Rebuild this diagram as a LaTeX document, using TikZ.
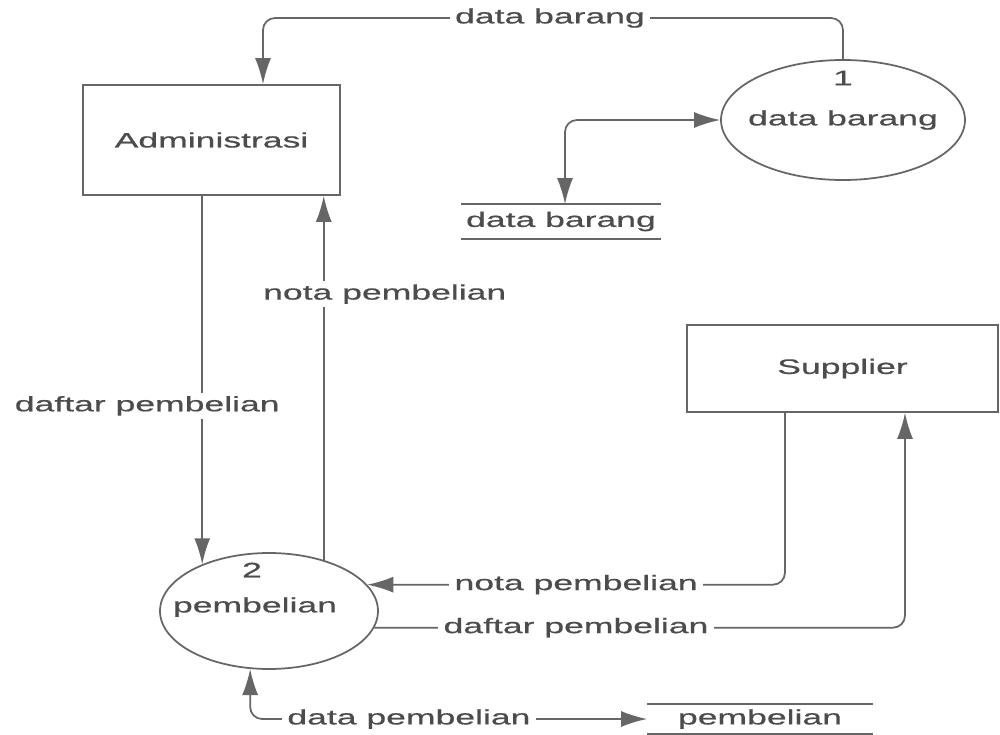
\documentclass[tikz,border=0pt]{standalone}
\usepackage{fontspec}
\setmainfont{Liberation Sans}[FakeStretch=1.7,FakeBold=0.6]
\usepackage{tikz}
\usetikzlibrary{arrows.meta, shapes.geometric}

\begin{document}
\begin{tikzpicture}[x=0.1mm,y=-0.1mm,>={Latex[length=2.6mm,width=1.6mm]},line width=0.5pt,color=black!60,font=\fontsize{5.95}{7}\selectfont]
    \tikzstyle{every node}=[text=black!70]
    \tikzstyle{entity}=[rectangle,draw=black!60,inner sep=0pt]
    \tikzstyle{proc}=[ellipse,draw=black!60,inner sep=0pt]
    \tikzstyle{store}=[rectangle,inner sep=0pt]
    \tikzstyle{flow}=[rounded corners=1.2mm]
    \tikzstyle{lbl}=[fill=white,inner xsep=1.5pt,inner ysep=1pt,sharp corners]

    \useasboundingbox (0,0) rectangle (1000,735);

    % entities
    \node[entity,minimum width=25.7mm,minimum height=11mm] (adm) at (211.5,140) {Administrasi};
    \node[entity,minimum width=31.1mm,minimum height=8.7mm] (sup) at (842.5,368.5) {Supplier};

    % processes
    \node[proc,minimum width=24.4mm,minimum height=12mm] (p1) at (843,120) {};
    \node (p1no) at (843,78) {1};
    \node (p1txt) at (843,120) {data barang};
    \node[proc,minimum width=21.8mm,minimum height=11.6mm] (p2) at (269,611) {};
    \node (p2no) at (252,570) {2};
    \node (p2txt) at (255,607) {pembelian};

    % data stores
    \node[store,minimum width=19.8mm,minimum height=3.3mm] (s1) at (561,221.5) {data barang};
    \node[store,minimum width=22.4mm,minimum height=2.8mm] (s2) at (760,719) {pembelian};
    \draw (s1.north west) -- (s1.north east) (s1.south west) -- (s1.south east);
    \draw (s2.north west) -- (s2.north east) (s2.south west) -- (s2.south east);

    % flows
    \draw[flow,->] (p1.north) |- (550,18) node[lbl] {data barang} -| ([xshift=5.15mm]adm.north);
    \draw[flow,<->] (p1.west) -| ([xshift=0.4mm]s1.north);
    \draw[->] (adm.south -| p2.145) -- (p2.145) node[lbl,pos=0.57,xshift=-5.5mm] {daftar pembelian};
    \draw[->] (p2.43) -- (p2.43 |- adm.south) node[lbl,pos=0.73,xshift=6.1mm] {nota pembelian};
    \draw[flow,->] ([xshift=-5.75mm]sup.south) |- (p2.15) node[lbl,pos=0.75] {nota pembelian};
    \draw[flow,->] (p2.-9) -| ([xshift=6.25mm]sup.south) node[lbl,pos=0.19] {daftar pembelian};
    \draw[flow,<->] (p2.-108) |- (s2.west) node[lbl,pos=0.7] {data pembelian};
\end{tikzpicture}
\end{document}
